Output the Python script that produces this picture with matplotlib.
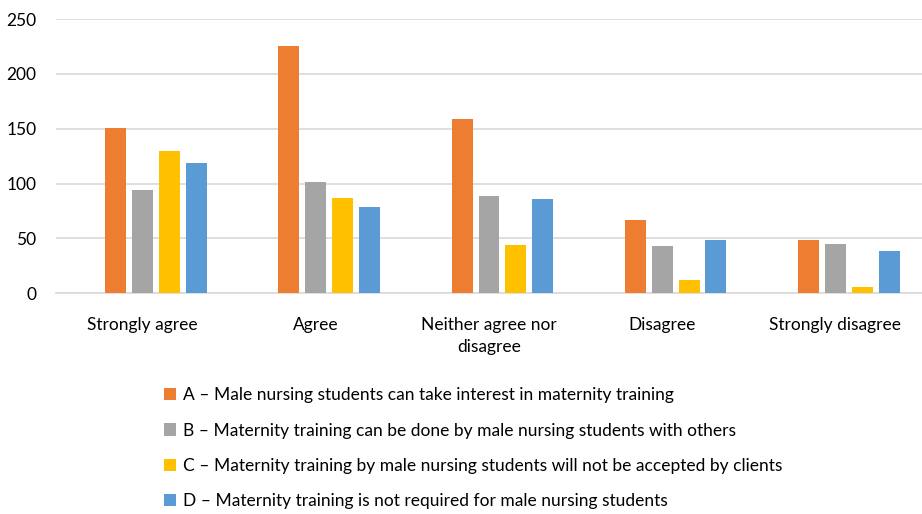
import numpy as np
import matplotlib.pyplot as plt

categories = ["Strongly agree", "Agree", "Neither agree nor\ndisagree", "Disagree", "Strongly disagree"]
series_labels = [
    "A \u2013 Male nursing students can take interest in maternity training",
    "B \u2013 Maternity training can be done by male nursing students with others",
    "C \u2013 Maternity training by male nursing students will not be accepted by clients",
    "D \u2013 Maternity training is not required for male nursing students",
]
vals_a = [151, 225, 159, 67, 49]
vals_b = [94, 101, 89, 43, 45]
vals_c = [130, 87, 44, 12, 6]
vals_d = [119, 79, 86, 49, 39]
colors = ["#ED7D31", "#A5A5A5", "#FFC000", "#5B9BD5"]

plt.rcParams['font.family'] = ['Lato', 'DejaVu Sans']

fig = plt.figure(figsize=(9.22, 5.14), dpi=100)
ax = fig.add_axes([0.0607, 0.4294, 0.9393, 0.5336])

x = np.arange(len(categories))
slot = 0.155
bw = 0.121
for k, (v, c, lab) in enumerate(zip([vals_a, vals_b, vals_c, vals_d], colors, series_labels)):
    # first slot of the group is empty in the original
    ax.bar(x + (k - 1) * slot, v, width=bw, color=c, label=lab, zorder=3)

ax.set_xlim(-0.5, len(categories) - 0.5)
ax.set_ylim(0, 250)
ax.set_yticks(range(0, 251, 50))
ax.yaxis.grid(True, color="#d9d9d9", linewidth=1.2, zorder=0)
for s in ["left", "right", "top"]:
    ax.spines[s].set_visible(False)
ax.spines["bottom"].set_color("#d9d9d9")
ax.spines["bottom"].set_linewidth(1.2)
ax.tick_params(axis="both", length=0, labelsize=12.5, colors="#000000")
ax.tick_params(axis="y", pad=14)
ax.tick_params(axis="x", pad=17)
ax.set_xticks(x)
ax.set_xticklabels(categories, linespacing=1.5)

fig.legend(loc="upper left", bbox_to_anchor=(0.168, 0.263), frameon=False,
           fontsize=12.5, handlelength=0.7, handleheight=0.7, handletextpad=0.4,
           labelspacing=1.1, borderpad=0)

fig.savefig("out.png", dpi=100)
